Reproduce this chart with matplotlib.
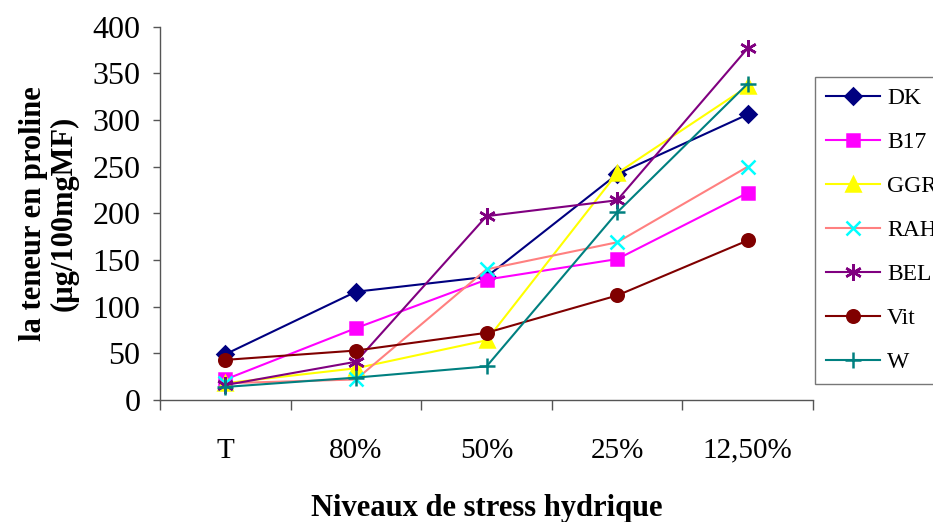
import matplotlib.pyplot as plt
from matplotlib.ticker import FixedLocator

plt.rcParams['font.family'] = ['Liberation Serif', 'DejaVu Serif']

# niveaux de stress
niveaux = ["T", "80%", "50%", "25%", "12,50%"]

# teneur en proline (µg/100mgMF)
dk = [49, 116, 132, 242, 306]
b17 = [22, 77, 129, 151, 222]
ggr = [18, 34, 64, 243, 336]
rah = [18, 22, 140, 169, 250]
bel = [16, 41, 197, 214, 377]
vit = [43, 53, 72, 112, 171]
w = [14, 24, 36, 201, 339]

noms = ["DK", "B17", "GGR", "RAH", "BEL", "Vit", "W"]
series = [dk, b17, ggr, rah, bel, vit, w]
couleurs_ligne = ['#000080', '#FF00FF', '#FFFF00', '#FF8080', '#800080', '#800000', '#008080']
couleurs_marq = ['#000080', '#FF00FF', '#FFFF00', '#00FFFF', '#800080', '#800000', '#008080']
marqueurs = ['D', 's', '^', 'x', (6, 2, 0), 'o', '+']
tailles = [8, 9, 10, 10, 12, 9, 12]

fig = plt.figure(figsize=(9.33, 5.22), dpi=100)
ax = fig.add_axes([0.1715, 0.2337, 0.7, 0.7152])

x = list(range(len(niveaux)))
for vals, nom, cl, cm, m, t in zip(series, noms, couleurs_ligne, couleurs_marq, marqueurs, tailles):
    ax.plot(x, vals, color=cl, lw=1.5, marker=m, markersize=t,
            markerfacecolor=cm, markeredgecolor=cm, markeredgewidth=1.8, label=nom)

ax.set_xlim(-0.5, 4.5)
ax.set_ylim(0, 400)
ax.set_yticks(range(0, 401, 50))
ax.set_xticks(x)
ax.set_xticklabels(niveaux)
ax.xaxis.set_minor_locator(FixedLocator([-0.5, 0.5, 1.5, 2.5, 3.5, 4.5]))
ax.tick_params(axis='x', which='major', length=0, pad=27, labelsize=21)
ax.tick_params(axis='x', which='minor', length=7, width=1, color='#555555', direction='out')
ax.tick_params(axis='y', length=5, width=1, color='#555555', labelsize=23, pad=9)

for s in ['top', 'right']:
    ax.spines[s].set_visible(False)
for s in ['left', 'bottom']:
    ax.spines[s].set_color('#555555')
    ax.spines[s].set_linewidth(1)

ax.set_xlabel("Niveaux de stress hydrique", fontsize=22, fontweight='bold', labelpad=22)
ax.set_ylabel("la teneur en proline\n(µg/100mgMF)", fontsize=22, fontweight='bold', labelpad=10,
              linespacing=1.05)

leg = fig.legend(loc='upper left', bbox_to_anchor=(815 / 933, 1 - 77 / 522), fontsize=17,
                 frameon=True, fancybox=False, edgecolor='#555555', handlelength=2.3,
                 labelspacing=0.95, borderpad=0.45, handletextpad=0.3, borderaxespad=0)
leg.get_frame().set_linewidth(1)

fig.savefig('out.png', dpi=100)
